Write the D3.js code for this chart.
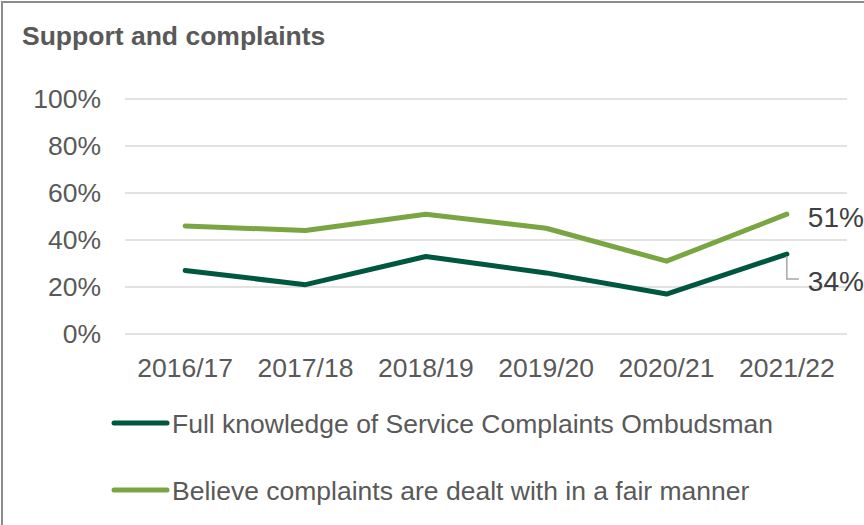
<!DOCTYPE html>
<html lang="en">
<head>
<meta charset="utf-8">
<script src="https://d3js.org/d3.v7.min.js"></script>
<style>
  body { margin: 0; background: #fff; }
  svg { display: block; font-family: "Liberation Sans", Arial, sans-serif; }
</style>
</head>
<body>
<script>
var years = ["2016/17", "2017/18", "2018/19", "2019/20", "2020/21", "2021/22"];
var knowledge = [27, 21, 33, 26, 17, 34];
var fairness = [46, 44, 51, 45, 31, 51];
var yTicks = [0, 20, 40, 60, 80, 100];
var seriesNames = ["Full knowledge of Service Complaints Ombudsman",
                   "Believe complaints are dealt with in a fair manner"];
var seriesColors = ["#00573f", "#7aa543"];

var width = 864, height = 525;

var svg = d3.select("body").append("svg")
    .attr("width", width)
    .attr("height", height);

// frame
svg.append("path")
    .attr("d", "M2," + height + "V2H" + width)
    .attr("fill", "none")
    .attr("stroke", "#8c8c8c")
    .attr("stroke-width", 2);

svg.append("text")
    .attr("x", 22)
    .attr("y", 45)
    .attr("font-size", 26.5)
    .attr("font-weight", "bold")
    .attr("fill", "#595959")
    .text("Support and complaints");

var x = d3.scaleBand()
    .domain(years)
    .range([125, 847]);

var y = d3.scaleLinear()
    .domain([0, 100])
    .range([334, 99]);

// gridlines
svg.append("g")
    .selectAll("line")
    .data(yTicks)
    .enter().append("line")
    .attr("x1", 125)
    .attr("x2", 847)
    .attr("y1", function (d) { return y(d); })
    .attr("y2", function (d) { return y(d); })
    .attr("stroke", "#d9d9d9")
    .attr("stroke-width", 1.5);

var yAxis = svg.append("g")
    .attr("transform", "translate(125,0)")
    .call(d3.axisLeft(y).tickValues(yTicks).tickSize(0).tickPadding(24)
        .tickFormat(function (d) { return d + "%"; }));
yAxis.select(".domain").remove();
yAxis.selectAll("text")
    .attr("font-size", 26.5)
    .attr("font-family", "Liberation Sans, Arial, sans-serif")
    .attr("fill", "#595959");

var xAxis = svg.append("g")
    .attr("transform", "translate(0,334)")
    .call(d3.axisBottom(x).tickSize(0).tickPadding(24));
xAxis.select(".domain").remove();
xAxis.selectAll("text")
    .attr("font-size", 26.5)
    .attr("font-family", "Liberation Sans, Arial, sans-serif")
    .attr("fill", "#595959");

var line = d3.line()
    .x(function (d, i) { return x(years[i]) + x.bandwidth() / 2; })
    .y(function (d) { return y(d); });

[knowledge, fairness].forEach(function (s, k) {
    svg.append("path")
        .datum(s)
        .attr("d", line)
        .attr("fill", "none")
        .attr("stroke", seriesColors[k])
        .attr("stroke-width", 5)
        .attr("stroke-linecap", "round")
        .attr("stroke-linejoin", "round");
});

// end labels
var lastX = x(years[5]) + x.bandwidth() / 2;
svg.append("path")
    .attr("d", "M" + lastX + "," + (y(knowledge[5]) + 2) + "V" + (y(knowledge[5]) + 25) + "H" + (lastX + 12))
    .attr("fill", "none")
    .attr("stroke", "#a6a6a6")
    .attr("stroke-width", 1.5);

svg.append("text")
    .attr("x", lastX + 21)
    .attr("y", y(fairness[5]) + 13)
    .attr("font-size", 28)
    .attr("fill", "#404040")
    .text(fairness[5] + "%");

svg.append("text")
    .attr("x", lastX + 21)
    .attr("y", y(knowledge[5]) + 37)
    .attr("font-size", 28)
    .attr("fill", "#404040")
    .text(knowledge[5] + "%");

// legend
var legend = svg.append("g");
seriesNames.forEach(function (name, k) {
    var ly = 423 + k * 67;
    legend.append("line")
        .attr("x1", 114).attr("x2", 167)
        .attr("y1", ly).attr("y2", ly)
        .attr("stroke", seriesColors[k])
        .attr("stroke-width", 5)
        .attr("stroke-linecap", "round");
    legend.append("text")
        .attr("x", 172)
        .attr("y", ly + 10)
        .attr("font-size", 26.5)
        .attr("fill", "#595959")
        .text(name);
});
</script>
</body>
</html>
